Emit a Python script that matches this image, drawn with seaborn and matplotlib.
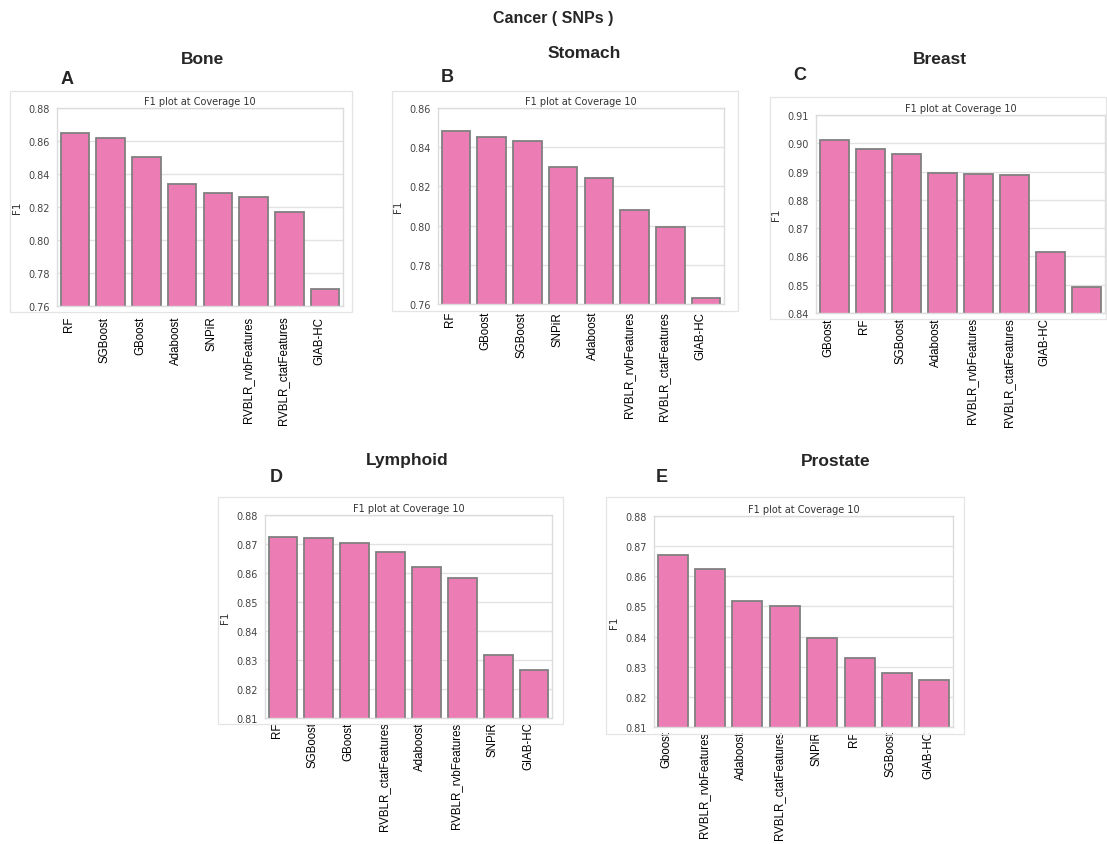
import matplotlib
matplotlib.use("Agg")
import matplotlib.pyplot as plt
import matplotlib.transforms as mtransforms
from matplotlib.patches import Rectangle
from matplotlib.ticker import MultipleLocator, FormatStrFormatter
from matplotlib import font_manager
import seaborn as sns
import pandas as pd

# F1 scores at coverage 10, per cancer type (models sorted as reported)
bone_models = ["RF", "SGBoost", "GBoost", "Adaboost", "SNPiR",
               "RVBLR_rvbFeatures", "RVBLR_ctatFeatures", "GIAB-HC"]
bone_f1 = [0.8648, 0.8618, 0.8506, 0.8338, 0.8287, 0.8263, 0.8172, 0.7702]

stomach_models = ["RF", "GBoost", "SGBoost", "SNPiR", "Adaboost",
                  "RVBLR_rvbFeatures", "RVBLR_ctatFeatures", "GIAB-HC"]
stomach_f1 = [0.8482, 0.8452, 0.8430, 0.8298, 0.8241, 0.8082, 0.7992, 0.7631]

breast_models = ["GBoost", "RF", "SGBoost", "Adaboost", "RVBLR_rvbFeatures",
                 "RVBLR_ctatFeatures", "GIAB-HC", ""]
breast_f1 = [0.9011, 0.8980, 0.8961, 0.8896, 0.8890, 0.8887, 0.8615, 0.8492]

lymphoid_models = ["RF", "SGBoost", "GBoost", "RVBLR_ctatFeatures", "Adaboost",
                   "RVBLR_rvbFeatures", "SNPiR", "GIAB-HC"]
lymphoid_f1 = [0.8723, 0.8722, 0.8705, 0.8671, 0.8619, 0.8584, 0.8316, 0.8265]

prostate_models = ["Gboost", "RVBLR_rvbFeatures", "Adaboost", "RVBLR_ctatFeatures",
                   "SNPiR", "RF", "SGBoost", "GIAB-HC"]
prostate_f1 = [0.8670, 0.8624, 0.8518, 0.8501, 0.8395, 0.8329, 0.8280, 0.8256]

W, H = 1107, 845
BAR_COLOR = "#eb7db4"
BAR_EDGE = "#808080"

sns.set_theme(style="whitegrid")
plt.rcParams["font.family"] = ["DejaVu Sans"]

installed = {f.name for f in font_manager.fontManager.ttflist}
HEAD_FONT = ("Liberation Sans Narrow" if "Liberation Sans Narrow" in installed
             else "Liberation Sans")
HEAD_SIZE = 13 if HEAD_FONT == "Liberation Sans Narrow" else 11.5

fig = plt.figure(figsize=(W / 100, H / 100), dpi=100)


def box(x0, y0, x1, y1):
    return [x0 / W, 1 - y1 / H, (x1 - x0) / W, (y1 - y0) / H]


def panel(models, f1, title, letter, ax_px, frame_px, ylim, step,
          title_xy, letter_xy, label_pad):
    # light border around each panel
    fr = box(*frame_px)
    fig.patches.append(Rectangle((fr[0], fr[1]), fr[2], fr[3],
                                 transform=fig.transFigure, fill=False,
                                 edgecolor="#e4e4e4", linewidth=0.9,
                                 zorder=0))
    ax = fig.add_axes(box(*ax_px))
    df = pd.DataFrame({"model": models, "F1": f1})
    sns.barplot(data=df, x="model", y="F1", order=models, color=BAR_COLOR,
                saturation=1, edgecolor=BAR_EDGE, linewidth=1.3, width=0.8,
                ax=ax)
    ax.set_ylim(*ylim)
    ax.yaxis.set_major_locator(MultipleLocator(step))
    ax.yaxis.set_major_formatter(FormatStrFormatter("%.2f"))
    ax.set_xlabel("")
    ax.set_ylabel("F1", fontsize=7.5, color="#333333", labelpad=5)
    ax.set_title("F1 plot at Coverage 10", fontsize=7, color="#333333", pad=3)
    ax.tick_params(axis="y", labelsize=7, labelcolor="#444444", pad=5, length=0)
    ax.tick_params(axis="x", length=0, pad=label_pad)
    for sp in ax.spines.values():
        sp.set_color("#dcdcdc")
        sp.set_linewidth(1.0)
    ax.grid(axis="y", color="#e2e2e2", linewidth=1.0)
    ax.grid(axis="x", visible=False)
    ax.set_axisbelow(True)
    shift = mtransforms.ScaledTranslation(-6 / 100, 0, fig.dpi_scale_trans)
    for lbl in ax.get_xticklabels():
        lbl.set_rotation(90)
        lbl.set_fontfamily("Liberation Sans")
        lbl.set_fontsize(8.3)
        lbl.set_color("black")
        lbl.set_transform(lbl.get_transform() + shift)
    fig.text(title_xy[0] / W, 1 - title_xy[1] / H, title, ha="center",
             va="center", fontsize=12.5, fontweight="bold",
             family="Liberation Sans")
    fig.text(letter_xy[0] / W, 1 - letter_xy[1] / H, letter, ha="center",
             va="center", fontsize=13, fontweight="bold",
             family="Liberation Sans")
    return ax


panel(bone_models, bone_f1, "Bone", "A",
      (57, 109, 343, 307), (10, 92, 352, 313), (0.76, 0.88), 0.02,
      (203, 59), (67, 79), 7)
panel(stomach_models, stomach_f1, "Stomach", "B",
      (438, 109, 724, 305), (392, 92, 738, 312), (0.76, 0.86), 0.02,
      (584, 53), (447, 78), 5)
panel(breast_models, breast_f1, "Breast", "C",
      (816, 116, 1105, 314), (770, 98, 1106, 320), (0.84, 0.91), 0.01,
      (940, 59), (800, 75), 3)
panel(lymphoid_models, lymphoid_f1, "Lymphoid", "D",
      (265, 516, 552, 719), (218, 498, 563, 725), (0.81, 0.88), 0.01,
      (407, 461), (276, 478), 2.5)
panel(prostate_models, prostate_f1, "Prostate", "E",
      (654, 517, 953, 728), (606, 498, 964, 735), (0.81, 0.88), 0.01,
      (836, 462), (662, 478), 2.5)

fig.text(553 / W, 1 - 18 / H, "Cancer ( SNPs )", ha="center", va="center",
         fontsize=HEAD_SIZE, fontweight="bold", family=HEAD_FONT)

fig.savefig("out.png", dpi=100, facecolor="white")
